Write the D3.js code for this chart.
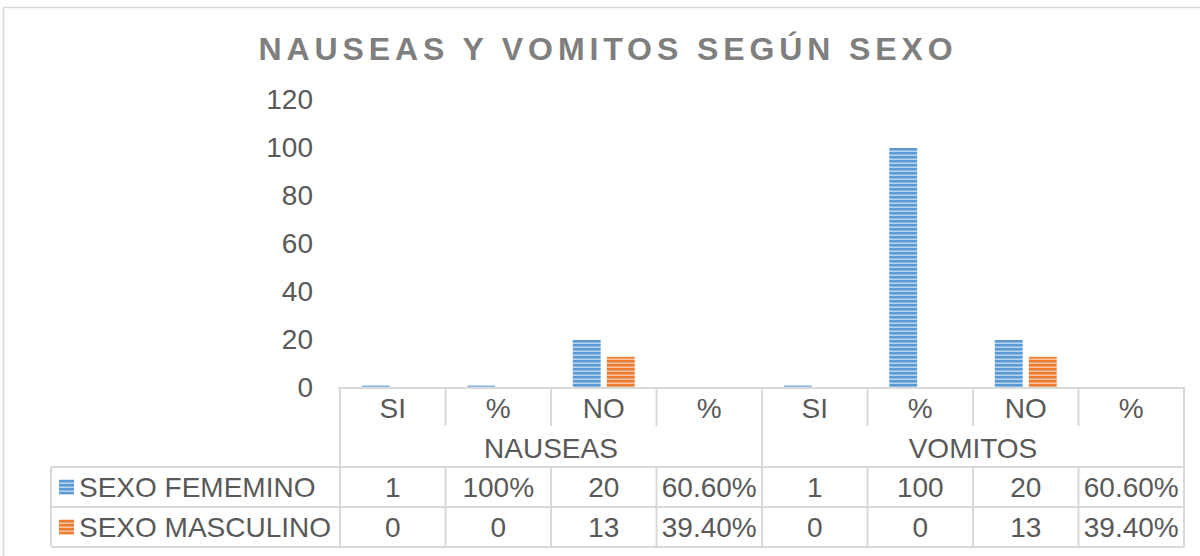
<!DOCTYPE html>
<html lang="es">
<head>
<meta charset="UTF-8">
<title>Nauseas y vomitos según sexo</title>
<script src="https://cdn.jsdelivr.net/npm/d3@7"></script>
<style>
  body { margin: 0; background: #fff; }
  svg text { font-family: "Liberation Sans", Arial, sans-serif; fill: #595959; }
</style>
</head>
<body>
<svg id="chart"></svg>
<script>
const categories = ["SI", "%", "NO", "%", "SI", "%", "NO", "%"];
const groups = ["NAUSEAS", "VOMITOS"];
const seriesNames = ["SEXO FEMEMINO", "SEXO MASCULINO"];
// values as plotted (percent cells of text type plot as 0)
const femValues = [1, 1, 20, 0, 1, 100, 20, 0];
const mascValues = [0, 0, 13, 0, 0, 0, 13, 0];
// values as shown in the data table
const femLabels = ["1", "100%", "20", "60.60%", "1", "100", "20", "60.60%"];
const mascLabels = ["0", "0", "13", "39.40%", "0", "0", "13", "39.40%"];
const yTicks = [0, 20, 40, 60, 80, 100, 120];

const W = 1200, H = 556;
const plotLeft = 340, plotRight = 1184;
const plotTop = 100, base = 388;
const rowH = [40, 39, 40, 40]; // category row, group row, fem row, masc row
const legendLeft = 51;
const grid = "#d9d9d9";
const colors = ["#5B9BD5", "#ED7D31"];
const light = ["#b8d3ee", "#f8c3a0"];
const fs = "28px";

const svg = d3.select("#chart").attr("width", W).attr("height", H);

// stripe patterns
const defs = svg.append("defs");
colors.forEach((c, i) => {
  const p = defs.append("pattern")
    .attr("id", "stripe" + i)
    .attr("patternUnits", "userSpaceOnUse")
    .attr("width", 8).attr("height", 4);
  p.append("rect").attr("width", 8).attr("height", 4).attr("fill", c);
  p.append("rect").attr("y", 2.5).attr("width", 8).attr("height", 1.5).attr("fill", light[i]);
});

// outer frame
svg.append("rect")
  .attr("x", 3.5).attr("y", 7.5)
  .attr("width", W + 10).attr("height", H + 10)
  .attr("fill", "none").attr("stroke", grid).attr("stroke-width", 1.5);

// title
svg.append("text")
  .attr("x", 608).attr("y", 60)
  .attr("text-anchor", "middle")
  .style("font-size", "32px").style("font-weight", "bold")
  .style("letter-spacing", "4.9px")
  .style("fill", "#7f7f7f")
  .text("NAUSEAS Y VOMITOS SEGÚN SEXO");

const x = d3.scaleBand().domain(d3.range(categories.length)).range([plotLeft, plotRight]).padding(0);
const xs = d3.scaleBand().domain([0, 1]).range([0, x.bandwidth()]).paddingInner(0.18).paddingOuter(0.64);
const y = d3.scaleLinear().domain([0, 120]).range([base, plotTop]);

// y axis
const yAxis = svg.append("g")
  .attr("transform", "translate(" + (plotLeft - 27) + ",0)")
  .call(d3.axisLeft(y).tickValues(yTicks).tickSize(0).tickPadding(0));
yAxis.select(".domain").remove();
yAxis.selectAll("text")
  .attr("font-family", null).attr("font-size", null)
  .style("font-size", fs).style("fill", "#595959");

// bars
[femValues, mascValues].forEach((vals, s) => {
  svg.append("g").selectAll("rect")
    .data(vals)
    .join("rect")
    .attr("x", (d, i) => x(i) + xs(s))
    .attr("width", xs.bandwidth())
    .attr("y", d => y(d))
    .attr("height", d => base - y(d))
    .attr("fill", "url(#stripe" + s + ")");
});

// table lines
const rowTop = [base];
rowH.forEach(h => rowTop.push(rowTop[rowTop.length - 1] + h));
const lines = svg.append("g").attr("stroke", grid).attr("stroke-width", 2);

// axis / top line of table
lines.append("line").attr("x1", plotLeft - 2).attr("x2", plotRight + 1).attr("y1", base).attr("y2", base);
// category row separators
d3.range(categories.length + 1).forEach(i => {
  const xx = i < categories.length ? x(i) : plotRight;
  const isGroupEdge = i % 4 === 0;
  lines.append("line")
    .attr("x1", xx).attr("x2", xx)
    .attr("y1", base).attr("y2", isGroupEdge ? rowTop[2] : rowTop[1] - 2);
  lines.append("line")
    .attr("x1", xx).attr("x2", xx)
    .attr("y1", rowTop[2]).attr("y2", rowTop[4]);
});
// legend rows
[rowTop[2], rowTop[3], rowTop[4]].forEach(yy => {
  lines.append("line").attr("x1", legendLeft).attr("x2", plotRight + 1).attr("y1", yy).attr("y2", yy);
});
lines.append("line").attr("x1", legendLeft).attr("x2", legendLeft).attr("y1", rowTop[2]).attr("y2", rowTop[4]);

// table text
const mid = k => (rowTop[k] + rowTop[k + 1]) / 2;
const cell = (g, xx, yy, t, anchor) => g.append("text")
  .attr("x", xx).attr("y", yy).attr("dy", "0.36em")
  .attr("text-anchor", anchor || "middle")
  .style("font-size", fs)
  .text(t);

const tg = svg.append("g");
categories.forEach((c, i) => cell(tg, x(i) + x.bandwidth() / 2, mid(0), c));
groups.forEach((g, j) => cell(tg, x(j * 4) + x.bandwidth() * 2, mid(1), g));
femLabels.forEach((t, i) => cell(tg, x(i) + x.bandwidth() / 2, mid(2), t));
mascLabels.forEach((t, i) => cell(tg, x(i) + x.bandwidth() / 2, mid(3), t));

// legend keys and names
seriesNames.forEach((n, s) => {
  const yy = mid(2 + s);
  svg.append("rect")
    .attr("x", 59).attr("y", yy - 7.5)
    .attr("width", 15).attr("height", 15)
    .attr("fill", "url(#stripe" + s + ")");
  cell(tg, 79, yy, n, "start");
});
</script>
</body>
</html>
